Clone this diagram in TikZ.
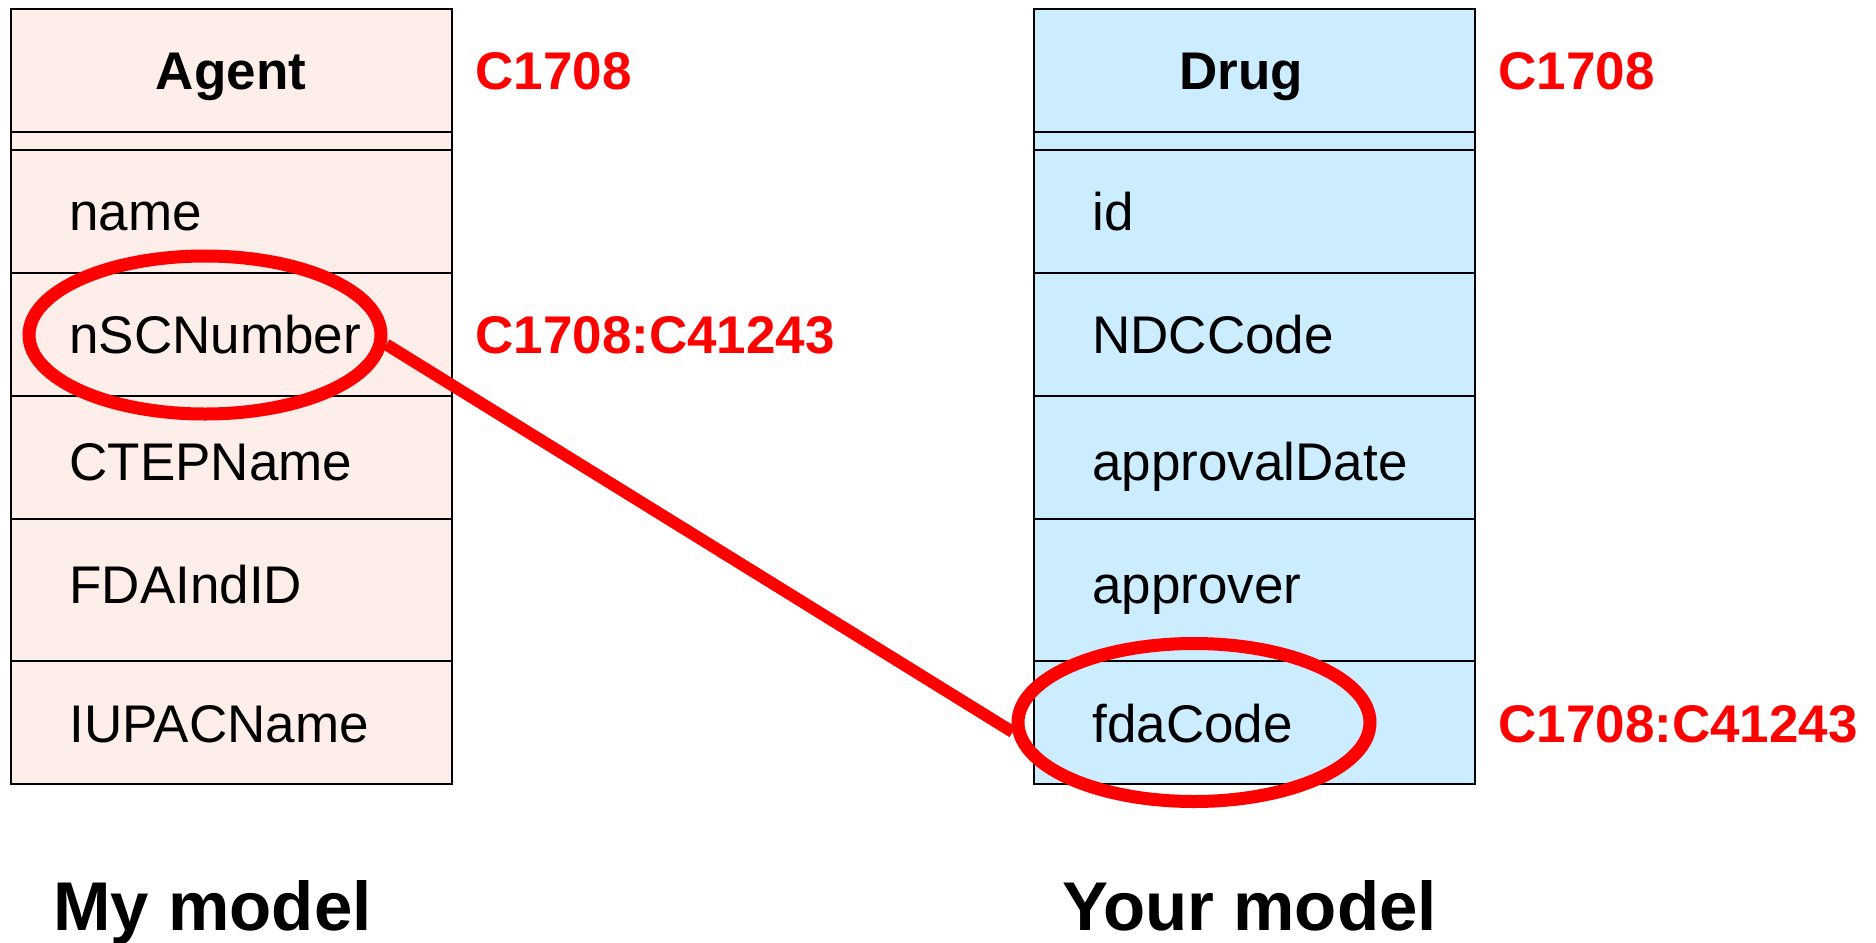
\documentclass[tikz,border=0pt]{standalone}
\usepackage{fontspec}
\setmainfont{Liberation Sans}
\usetikzlibrary{shapes.geometric}
\definecolor{agentfill}{HTML}{FDEEEA}
\definecolor{drugfill}{HTML}{CCECFF}
\definecolor{hlred}{HTML}{FF0000}
\begin{document}
\begin{tikzpicture}[x=0.5pt,y=-0.5pt,
  classbox/.style={draw=black, line width=1pt},
  attr/.style={anchor=base west, inner sep=0pt, font=\fontsize{26.5}{30}\selectfont},
  head/.style={anchor=base, inner sep=0pt, font=\fontsize{26.5}{30}\selectfont\bfseries},
  code/.style={anchor=base west, inner sep=0pt, text=hlred, font=\fontsize{26.5}{30}\selectfont\bfseries},
  title/.style={anchor=base west, inner sep=0pt, font=\fontsize{34.5}{40}\selectfont\bfseries},
  ring/.style={ellipse, draw=hlred, line width=6.5pt, inner sep=0pt,
    minimum width=176pt, minimum height=79pt},
  link/.style={draw=hlred, line width=6pt}]
  \useasboundingbox (0,0) rectangle (1876,943);

  % class compartments: header, empty operations band, attribute rows
  \foreach \xl/\xr/\col in {11/452/agentfill, 1034/1475/drugfill}{
    \fill[\col] (\xl,9) rectangle (\xr,784);
    \draw[classbox] (\xl,9) rectangle (\xr,784);
    \foreach \yy in {132,150,273,396,519,661}
      \draw[classbox] (\xl,\yy) -- (\xr,\yy);
  }

  % Agent class
  \node[head] (agent) at (231,89) {Agent};
  \node[attr] (a1) at (69,230) {name};
  \node[attr] (a2) at (69,353) {nSCNumber};
  \node[attr] (a3) at (69,480) {CTEPName};
  \node[attr] (a4) at (69,603) {FDAIndID};
  \node[attr] (a5) at (69,742) {IUPACName};
  \node[code] (ca) at (475,89) {C1708};
  \node[code] (cb) at (475,353) {C1708:C41243};

  % Drug class
  \node[head] (drug) at (1241,89) {Drug};
  \node[attr] (d1) at (1092,230) {id};
  \node[attr] (d2) at (1092,353) {NDCCode};
  \node[attr] (d3) at (1092,480) {approvalDate};
  \node[attr] (d4) at (1092,603) {approver};
  \node[attr] (d5) at (1092,742) {fdaCode};
  \node[code] (cc) at (1498,89) {C1708};
  \node[code] (cd) at (1498,742) {C1708:C41243};

  % model captions
  \node[title] (mine) at (53,930) {My model};
  \node[title] (yours) at (1062,930) {Your model};

  % highlighted matching attributes
  \node[ring] (e1) at (205,335) {};
  \node[ring] (e2) at (1194,722.5) {};
  \draw[link] (e1.-3) -- (e2.183);
\end{tikzpicture}
\end{document}
